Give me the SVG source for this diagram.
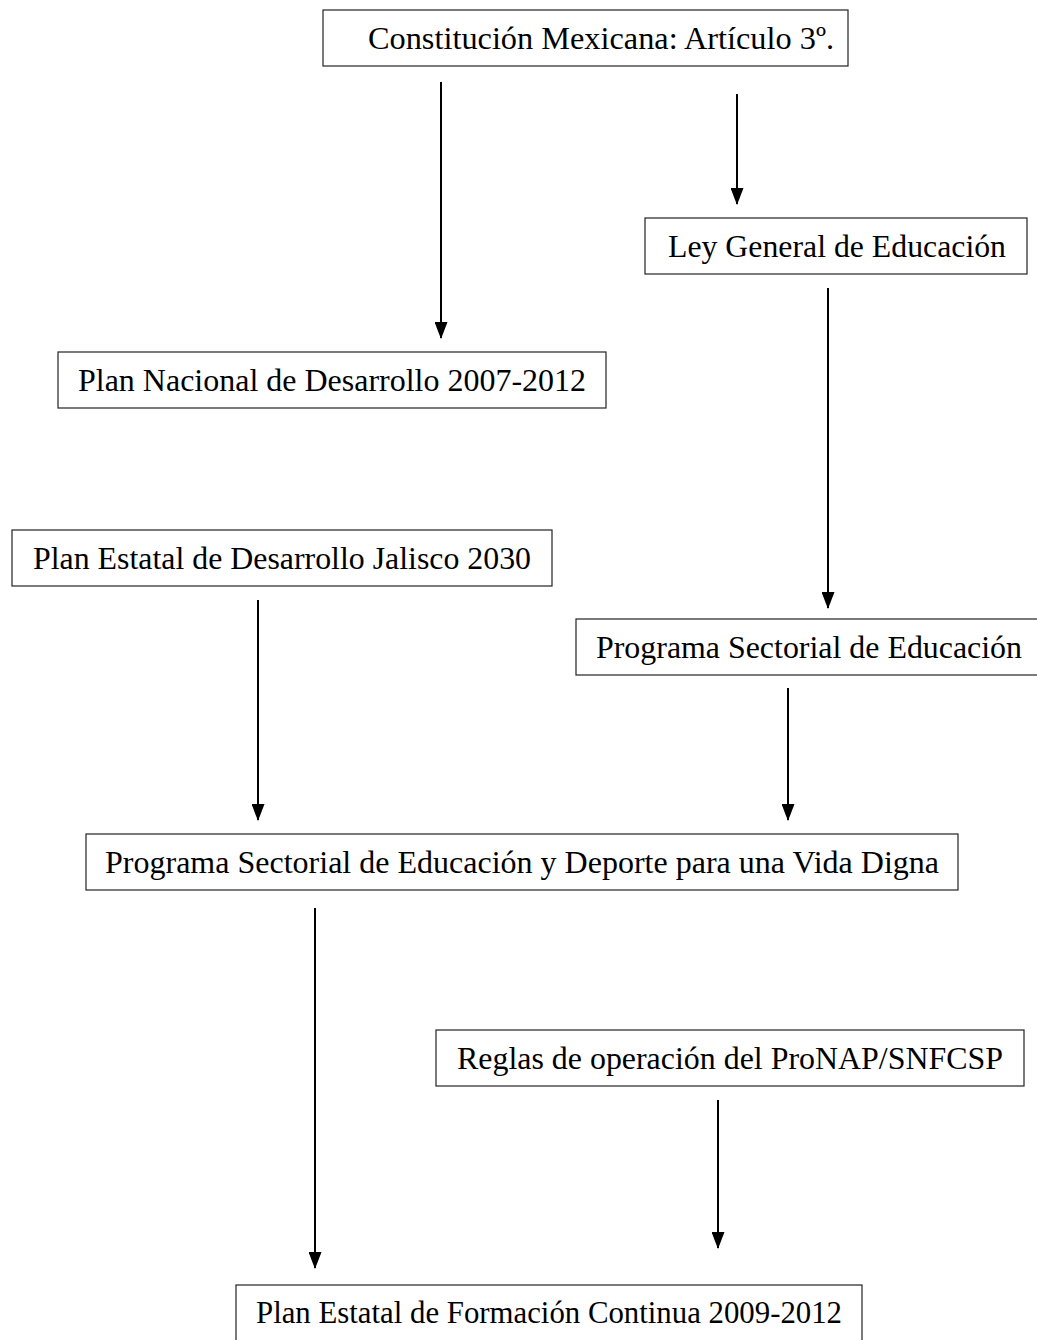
<svg xmlns="http://www.w3.org/2000/svg" width="1037" height="1340" viewBox="0 0 1037 1340">
<style>
.box{fill:#fff;stroke:#222;stroke-width:1.2}
.t{font-family:"Liberation Serif","Times New Roman",serif;font-size:32px;fill:#000}
.c{stroke:#000;stroke-width:2;fill:none}
</style>
<defs>
<marker id="a" markerUnits="userSpaceOnUse" markerWidth="17" markerHeight="13" refX="16" refY="6.5" orient="auto" viewBox="0 0 17 13">
<path d="M0,0 L17,6.5 L0,13 Z" fill="#000"/>
</marker>
</defs>
<rect width="1037" height="1340" fill="#fff"/>
<g id="connectors">
<line class="c" x1="441" y1="82" x2="441" y2="338" marker-end="url(#a)"/>
<line class="c" x1="737" y1="94" x2="737" y2="204" marker-end="url(#a)"/>
<line class="c" x1="828" y1="288" x2="828" y2="608" marker-end="url(#a)"/>
<line class="c" x1="258" y1="600" x2="258" y2="820" marker-end="url(#a)"/>
<line class="c" x1="788" y1="688" x2="788" y2="820" marker-end="url(#a)"/>
<line class="c" x1="315" y1="908" x2="315" y2="1268" marker-end="url(#a)"/>
<line class="c" x1="718" y1="1100" x2="718" y2="1248" marker-end="url(#a)"/>
</g>
<g id="n1"><rect class="box" x="323" y="10" width="525" height="56"/><text class="t" x="368" y="49" textLength="466" lengthAdjust="spacingAndGlyphs">Constitución Mexicana: Artículo 3º.</text></g>
<g id="n2"><rect class="box" x="645" y="218" width="382" height="56"/><text class="t" x="668" y="257" textLength="338" lengthAdjust="spacingAndGlyphs">Ley General de Educación</text></g>
<g id="n3"><rect class="box" x="58" y="352" width="548" height="56"/><text class="t" x="78" y="391" textLength="508" lengthAdjust="spacingAndGlyphs">Plan Nacional de Desarrollo 2007-2012</text></g>
<g id="n4"><rect class="box" x="12" y="530" width="540" height="56"/><text class="t" x="33" y="569" textLength="498" lengthAdjust="spacingAndGlyphs">Plan Estatal de Desarrollo Jalisco 2030</text></g>
<g id="n5"><rect class="box" x="576" y="619" width="470" height="56"/><text class="t" x="596" y="658" textLength="426" lengthAdjust="spacingAndGlyphs">Programa Sectorial de Educación</text></g>
<g id="n6"><rect class="box" x="86" y="834" width="872" height="56"/><text class="t" x="105" y="873" textLength="834" lengthAdjust="spacingAndGlyphs">Programa Sectorial de Educación y Deporte para una Vida Digna</text></g>
<g id="n7"><rect class="box" x="436" y="1030" width="588" height="56"/><text class="t" x="457" y="1069" textLength="546" lengthAdjust="spacingAndGlyphs">Reglas de operación del ProNAP/SNFCSP</text></g>
<g id="n8"><rect class="box" x="236" y="1285" width="626" height="70"/><text class="t" x="256" y="1323" textLength="586" lengthAdjust="spacingAndGlyphs">Plan Estatal de Formación Continua 2009-2012</text></g>
</svg>
